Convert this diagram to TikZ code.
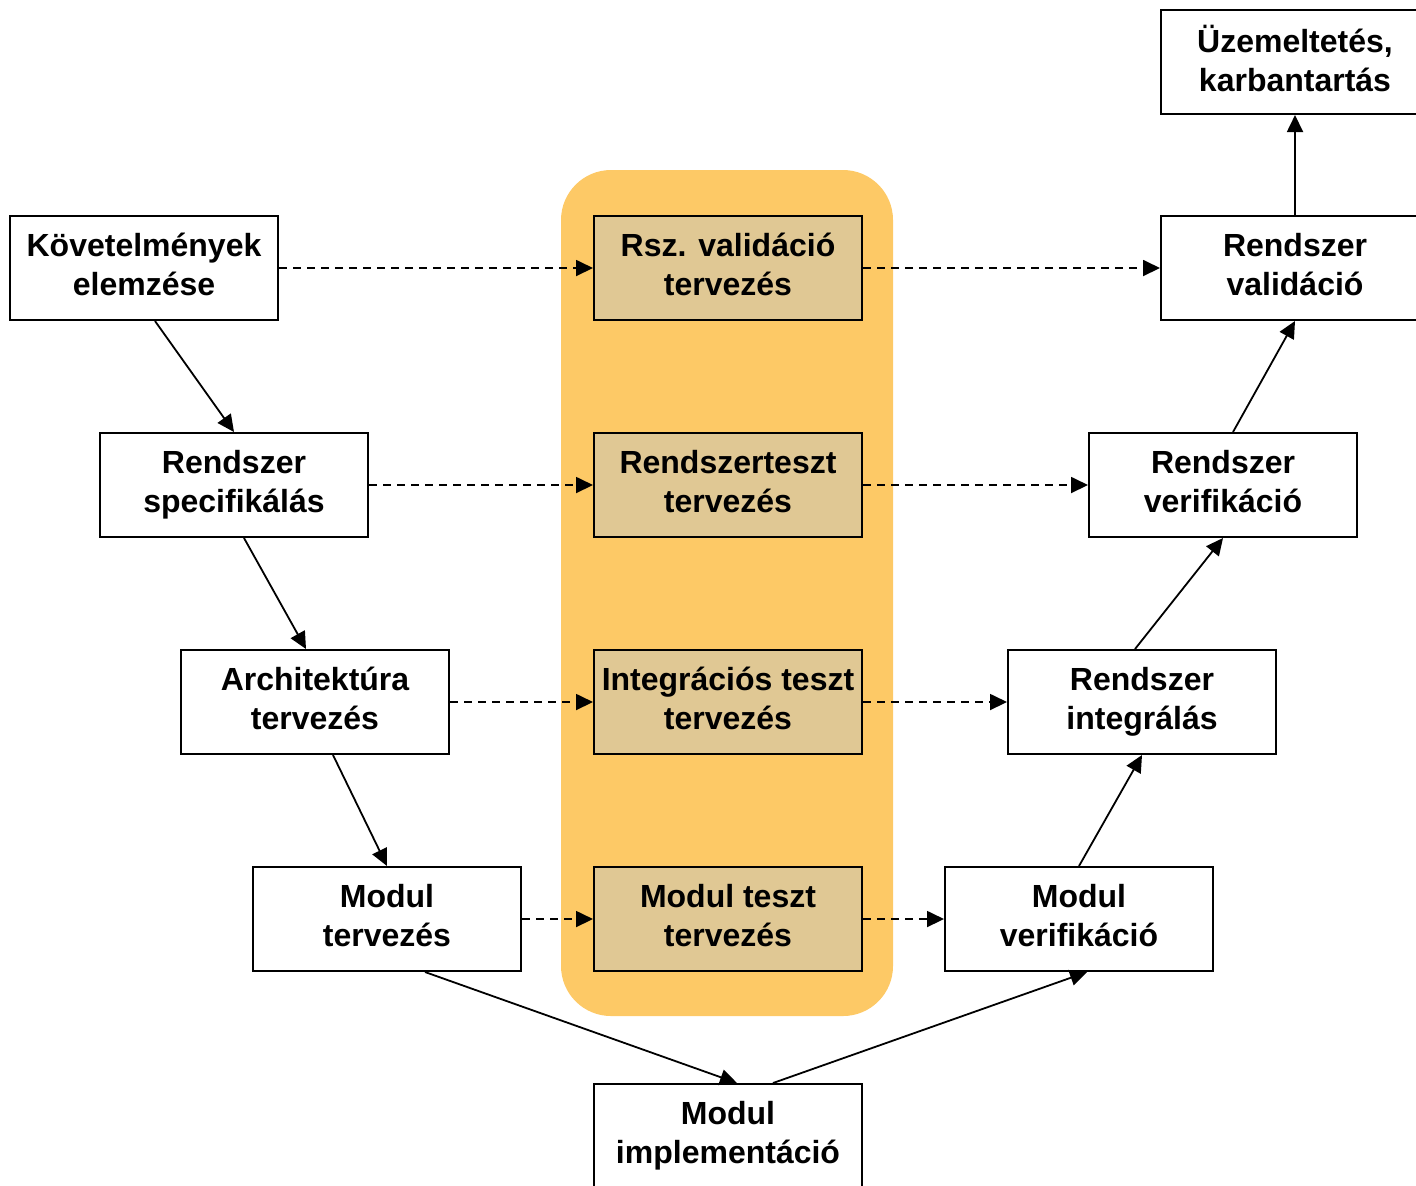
\documentclass[tikz,border=0pt]{standalone}
\usepackage{fontspec}
\setmainfont{Liberation Sans}
\usetikzlibrary{arrows.meta}
\definecolor{vorange}{RGB}{253,201,102}
\definecolor{vtan}{RGB}{224,200,148}

\begin{document}
\begin{tikzpicture}[x=0.5pt,y=-0.5pt,
  doboz/.style={draw=black, line width=1pt, fill=white, minimum width=134pt, minimum height=52pt, inner sep=0pt, align=center, text depth=4pt, font=\fontsize{16}{19.5}\selectfont\bfseries},
  terv/.style={doboz, fill=vtan},
  nyil/.style={-{Triangle[length=8.5pt,width=8pt]}, line width=0.9pt},
  szaggatott/.style={nyil, dash pattern=on 4pt off 3pt}]
\useasboundingbox (0,0) rectangle (1416,1185);
\clip (0,0) rectangle (1416,1185);
\fill[vorange, rounded corners=25pt] (561,170) rectangle (893,1016); % orange band
% left branch
\node[doboz] (kov) at (144,268) {Követelmények\\elemzése};
\node[doboz] (rsp) at (234,485) {Rendszer\\specifikálás};
\node[doboz] (arch) at (315,702) {Architektúra\\tervezés};
\node[doboz] (mt) at (387,919) {Modul\\tervezés};
\node[doboz] (mi) at (728,1136) {Modul\\implementáció};
% middle column
\node[terv] (rvt) at (728,268) {Rsz. validáció\\tervezés};
\node[terv] (rtt) at (728,485) {Rendszerteszt\\tervezés};
\node[terv] (itt) at (728,702) {Integrációs teszt\\tervezés};
\node[terv] (mtt) at (728,919) {Modul teszt\\tervezés};
% right branch
\node[doboz] (uzem) at (1295,62) {Üzemeltetés,\\karbantartás};
\node[doboz] (rval) at (1295,268) {Rendszer\\validáció};
\node[doboz] (rver) at (1223,485) {Rendszer\\verifikáció};
\node[doboz] (rint) at (1142,702) {Rendszer\\integrálás};
\node[doboz] (mver) at (1079,919) {Modul\\verifikáció};
% solid arrows
\draw[nyil] ([xshift=5.5pt]kov.south) -- (rsp.north);
\draw[nyil] ([xshift=5pt]rsp.south) -- ([xshift=-4.5pt]arch.north);
\draw[nyil] ([xshift=9pt]arch.south) -- (mt.north);
\draw[nyil] ([xshift=19pt]mt.south) -- ([xshift=4.5pt]mi.north);
\draw[nyil] ([xshift=22.5pt]mi.north) -- ([xshift=4pt]mver.south);
\draw[nyil] (mver.north) -- (rint.south);
\draw[nyil] ([xshift=-3.5pt]rint.north) -- (rver.south);
\draw[nyil] ([xshift=5pt]rver.north) -- (rval.south);
\draw[nyil] (rval.north) -- (uzem.south);
% dashed arrows
\foreach \a/\b/\c in {kov/rvt/rval, rsp/rtt/rver, arch/itt/rint, mt/mtt/mver} {
  \draw[szaggatott] (\a.east) -- (\b.west);
  \draw[szaggatott] (\b.east) -- (\c.west);
}
\end{tikzpicture}
\end{document}
